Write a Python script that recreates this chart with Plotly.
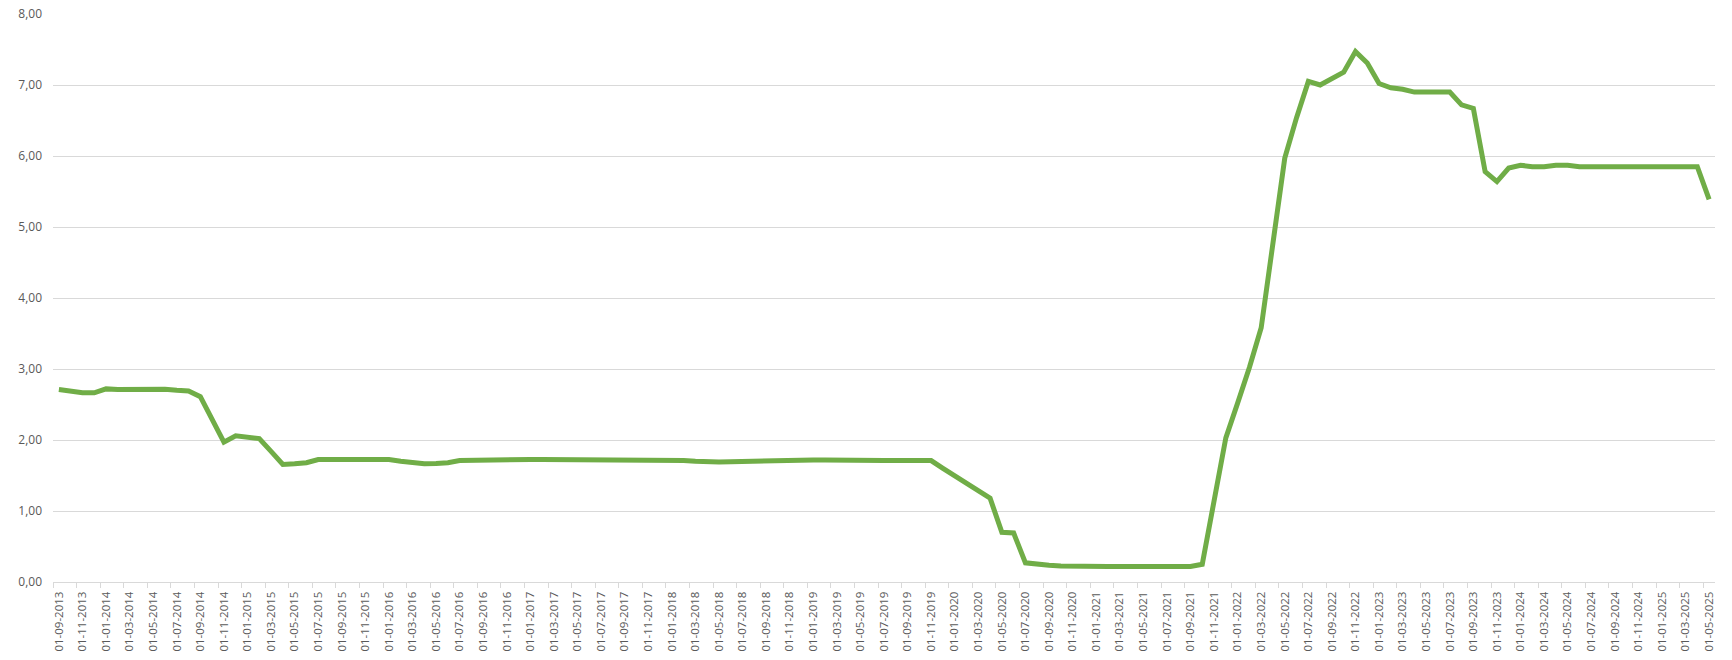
import plotly.graph_objects as go
import pandas as pd

# Monthly categories 01-09-2013 .. 01-05-2025
months = pd.date_range("2013-09-01", "2025-05-01", freq="MS")
categories = [d.strftime("%d-%m-%Y") for d in months]

values_2013 = [2.71, 2.68, 2.665, 2.665]
values_2014 = [2.72, 2.71, 2.715, 2.72, 2.725, 2.715, 2.70, 2.69, 2.61, 2.29, 1.97, 2.06]
values_2015 = [2.04, 2.02, 1.84, 1.655, 1.665, 1.68, 1.725, 1.725, 1.725, 1.725, 1.725, 1.725]
values_2016 = [1.725, 1.70, 1.68, 1.665, 1.67, 1.68, 1.71, 1.715, 1.72, 1.72, 1.725, 1.725]
values_2017 = [1.725, 1.725, 1.725, 1.725, 1.725, 1.725, 1.725, 1.725, 1.725, 1.725, 1.725, 1.725]
values_2018 = [1.725, 1.71, 1.70, 1.69, 1.69, 1.695, 1.70, 1.70, 1.705, 1.72, 1.72, 1.72]
values_2019 = [1.72, 1.72, 1.715, 1.715, 1.715, 1.715, 1.71, 1.71, 1.71, 1.71, 1.71, 1.60]
values_2020 = [1.50, 1.39, 1.29, 1.18, 0.70, 0.69, 0.27, 0.245, 0.235, 0.225, 0.22, 0.22]
values_2021 = [0.22, 0.22, 0.22, 0.22, 0.22, 0.22, 0.22, 0.22, 0.22, 0.25, 1.15, 2.03]
values_2022 = [2.52, 3.02, 3.58, 4.82, 5.97, 6.54, 7.05, 7.00, 7.10, 7.18, 7.47, 7.31]
values_2023 = [7.02, 6.96, 6.94, 6.90, 6.90, 6.90, 6.90, 6.72, 6.67, 5.78, 5.64, 5.83]
values_2024 = [5.87, 5.85, 5.85, 5.87, 5.87, 5.85, 5.85, 5.85, 5.85, 5.85, 5.85, 5.85]
values_2025 = [5.85, 5.85, 5.85, 5.85, 5.39]

values = (values_2013 + values_2014 + values_2015 + values_2016 + values_2017 +
          values_2018 + values_2019 + values_2020 + values_2021 + values_2022 +
          values_2023 + values_2024 + values_2025)

y_ticks = [0, 1, 2, 3, 4, 5, 6, 7, 8]

FONT = "Open Sans"
TXT = "#595959"
GRID = "#D9D9D9"

fig = go.Figure()
fig.add_trace(go.Scatter(
    x=categories, y=values, mode="lines",
    line=dict(color="#70AD47", width=5, shape="linear"),
    hoverinfo="x+y", showlegend=False,
))

fig.update_layout(
    template="none",
    width=1732, height=660,
    margin=dict(l=53, r=17, t=14, b=78, pad=0),
    paper_bgcolor="white", plot_bgcolor="white",
    separators=", ",
    font=dict(family=FONT, size=12, color=TXT),
    showlegend=False,
)
fig.update_xaxes(
    automargin=False,
    type="category", categoryorder="array", categoryarray=categories,
    range=[-0.5, len(categories) - 0.5],
    tickmode="linear", tick0=0, dtick=2,
    tickson="boundaries",
    tickangle=-90,
    ticks="outside", ticklen=5, tickcolor=GRID, tickwidth=1,
    showline=True, linecolor=GRID, linewidth=1,
    showgrid=False, zeroline=False,
    tickfont=dict(family=FONT, size=11.5, color=TXT),
    ticklabelstandoff=4,
)
fig.update_yaxes(
    automargin=False,
    range=[0, 8], tickmode="array", tickvals=y_ticks,
    tickformat=".2f",
    showgrid=True, gridcolor=GRID, gridwidth=1,
    zeroline=False, showline=False, ticks="",
    tickfont=dict(family=FONT, size=12, color=TXT),
    ticklabelstandoff=10,
)

# remove the browser's default page margin so the figure sits at the window origin
fig.write_html(
    "out.html",
    config={"displayModeBar": False},
    post_script="document.body.style.margin='0';document.body.style.overflow='hidden';",
)
